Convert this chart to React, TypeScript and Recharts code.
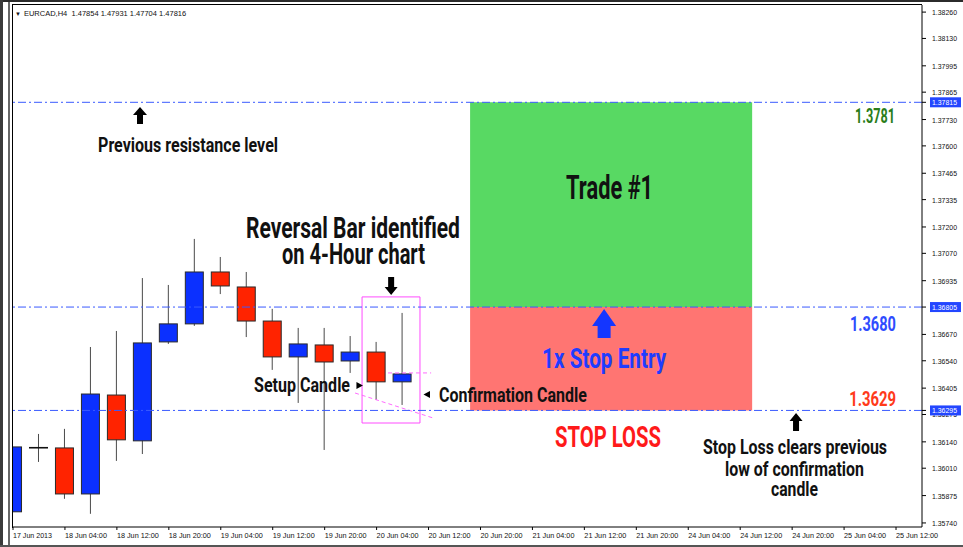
import React from 'react';
import {
  ComposedChart,
  Bar,
  XAxis,
  YAxis,
  ReferenceLine,
  ReferenceArea,
  ReferenceDot,
} from 'recharts';

// ---------- data ----------
const barIndex = [0, 1, 2, 3, 4, 5, 6, 7, 8, 9, 10, 11, 12, 13, 14, 15];
const opens = [1.35795, 1.36111, 1.3611, 1.35883, 1.36371, 1.36145, 1.36633, 1.36722, 1.36978, 1.36904, 1.36736, 1.36559, 1.36618, 1.36539, 1.36583, 1.36436];
const highs = [1.36238, 1.36179, 1.36204, 1.36608, 1.36687, 1.36948, 1.36914, 1.37141, 1.37052, 1.36978, 1.36796, 1.36702, 1.36702, 1.36662, 1.36633, 1.36776];
const lows = [1.3579, 1.36041, 1.35859, 1.35785, 1.36046, 1.3608, 1.36623, 1.36712, 1.36869, 1.36657, 1.36495, 1.36332, 1.361, 1.3648, 1.36347, 1.36322];
const closes = [1.36115, 1.36111, 1.35883, 1.36376, 1.3615, 1.36628, 1.36722, 1.36978, 1.36909, 1.36736, 1.36559, 1.36623, 1.36534, 1.36583, 1.36436, 1.36475];

const xTickIdx = [0, 2, 4, 6, 8, 10, 12, 14, 16, 18, 20, 22, 24, 26, 28, 30, 32, 34];
const xTickLabels = [
  '17 Jun 2013', '18 Jun 04:00', '18 Jun 12:00', '18 Jun 20:00', '19 Jun 04:00', '19 Jun 12:00',
  '19 Jun 20:00', '20 Jun 04:00', '20 Jun 12:00', '20 Jun 20:00', '21 Jun 04:00', '21 Jun 12:00',
  '21 Jun 20:00', '24 Jun 04:00', '24 Jun 12:00', '24 Jun 20:00', '25 Jun 04:00', '25 Jun 12:00',
];

const yTicks = [1.3826, 1.3813, 1.37995, 1.37865, 1.3773, 1.376, 1.37465, 1.37335, 1.372, 1.3707, 1.36935, 1.3667, 1.3654, 1.36405, 1.36275, 1.3614, 1.3601, 1.35875, 1.3574];
const levelPrices = [1.37815, 1.36805, 1.36295];

const resistance = 1.37815;
const entry = 1.36805;
const stopLoss = 1.36295;
const tradeStart = 17.6;
const tradeEnd = 28.46;

const header = 'EURCAD,H4  1.47854 1.47931 1.47704 1.47816';

const rows = barIndex.map((i, k) => ({
  i,
  o: opens[k],
  h: highs[k],
  l: lows[k],
  c: closes[k],
  range: [lows[k], highs[k]],
}));

// ---------- annotations (data coordinates) ----------
type Ann =
  | { kind: 'text'; x: number; y: number; text: string; size: number; width: number; color: string }
  | { kind: 'arrowUp' | 'arrowDown'; x: number; y: number; w: number; hh: number; sw: number; h: number; color: string }
  | { kind: 'triR' | 'triL'; x: number; y: number; color: string };

const annotations: Ann[] = [
  { kind: 'arrowUp', x: 4.89, y: 1.37792, w: 14, hh: 8, sw: 6, h: 17, color: '#000' },
  { kind: 'text', x: 6.74, y: 1.3757, text: 'Previous resistance level', size: 21, width: 180, color: '#111' },
  { kind: 'text', x: 13.09, y: 1.37146, text: 'Reversal Bar identified', size: 29, width: 214, color: '#111' },
  { kind: 'text', x: 13.11, y: 1.37017, text: 'on 4-Hour chart', size: 29, width: 143, color: '#111' },
  { kind: 'arrowDown', x: 14.56, y: 1.36865, w: 13, hh: 8, sw: 6, h: 18, color: '#000' },
  { kind: 'text', x: 11.13, y: 1.36386, text: 'Setup Candle', size: 21, width: 96, color: '#111' },
  { kind: 'triR', x: 13.34, y: 1.36418, color: '#000' },
  { kind: 'triL', x: 15.94, y: 1.36374, color: '#000' },
  { kind: 'text', x: 19.25, y: 1.36337, text: 'Confirmation Candle', size: 21, width: 148, color: '#111' },
  { kind: 'text', x: 22.97, y: 1.37338, text: 'Trade #1', size: 34, width: 87, color: '#111' },
  { kind: 'arrowUp', x: 22.76, y: 1.36795, w: 24, hh: 17, sw: 13, h: 29, color: '#1436ff' },
  { kind: 'text', x: 22.76, y: 1.36504, text: '1x Stop Entry', size: 27, width: 124, color: '#1f3cff' },
  { kind: 'text', x: 22.91, y: 1.36115, text: 'STOP LOSS', size: 29, width: 106, color: '#ff1a1a' },
  { kind: 'text', x: 33.19, y: 1.37713, text: '1.3781', size: 21, width: 40, color: '#2a7d1a' },
  { kind: 'text', x: 33.11, y: 1.36687, text: '1.3680', size: 21, width: 46, color: '#2f4cff' },
  { kind: 'text', x: 33.1, y: 1.36317, text: '1.3629', size: 21, width: 47, color: '#ff3a1a' },
  { kind: 'arrowUp', x: 30.15, y: 1.36282, w: 13, hh: 8, sw: 6, h: 18, color: '#000' },
  { kind: 'text', x: 30.11, y: 1.3608, text: 'Stop Loss clears previous', size: 21, width: 184, color: '#111' },
  { kind: 'text', x: 30.09, y: 1.35972, text: 'low of confirmation', size: 21, width: 139, color: '#111' },
  { kind: 'text', x: 30.09, y: 1.35873, text: 'candle', size: 21, width: 47, color: '#111' },
];

const ANN_FONT = "Roboto, 'Noto Sans', sans-serif";
const AXIS_FONT = "'Liberation Sans', Arial, sans-serif";

const renderAnn = (a: Ann, cx: number, cy: number) => {
  if (a.kind === 'text') {
    return (
      <text
        x={cx}
        y={cy}
        textAnchor="middle"
        fontFamily={ANN_FONT}
        fontWeight={700}
        fontSize={a.size}
        fill={a.color}
        textLength={a.width}
        lengthAdjust="spacingAndGlyphs"
      >
        {a.text}
      </text>
    );
  }
  if (a.kind === 'arrowUp') {
    const d = `M${cx},${cy} L${cx + a.w / 2},${cy + a.hh} L${cx + a.sw / 2},${cy + a.hh} L${cx + a.sw / 2},${cy + a.h} L${cx - a.sw / 2},${cy + a.h} L${cx - a.sw / 2},${cy + a.hh} L${cx - a.w / 2},${cy + a.hh} Z`;
    return <path d={d} fill={a.color} />;
  }
  if (a.kind === 'arrowDown') {
    const d = `M${cx},${cy} L${cx + a.w / 2},${cy - a.hh} L${cx + a.sw / 2},${cy - a.hh} L${cx + a.sw / 2},${cy - a.h} L${cx - a.sw / 2},${cy - a.h} L${cx - a.sw / 2},${cy - a.hh} L${cx - a.w / 2},${cy - a.hh} Z`;
    return <path d={d} fill={a.color} />;
  }
  if (a.kind === 'triR') {
    return <path d={`M${cx - 3},${cy - 3.5} L${cx + 3.5},${cy} L${cx - 3},${cy + 3.5} Z`} fill={a.color} />;
  }
  return <path d={`M${cx + 3},${cy - 3.5} L${cx - 3.5},${cy} L${cx + 3},${cy + 3.5} Z`} fill={a.color} />;
};

// ---------- shapes ----------
const CandleShape = (props: any) => {
  const { x, y, width, height, payload } = props;
  if (!payload) return null;
  const { o, h, l, c } = payload;
  const top0 = Math.min(y, y + height);
  const hh = Math.abs(height);
  const span = h - l;
  const py = (p: number) => top0 + ((h - p) / span) * hh;
  const cx = x + width / 2;
  const bTop = py(Math.max(o, c));
  const bBot = py(Math.min(o, c));
  const bull = c > o;
  const doji = c === o;
  return (
    <g>
      <line x1={cx} x2={cx} y1={top0} y2={top0 + hh} stroke="#4a4a4a" strokeWidth={1} />
      {doji ? (
        <line x1={x} x2={x + width} y1={bTop} y2={bTop} stroke="#111" strokeWidth={1.6} />
      ) : (
        <rect
          x={x + 0.5}
          y={bTop}
          width={width - 1}
          height={Math.max(bBot - bTop, 1)}
          fill={bull ? '#0b30ff' : '#ff2300'}
          stroke="#2a2a2a"
          strokeWidth={1}
        />
      )}
    </g>
  );
};

const XTick = (props: any) => {
  const { x, y, payload } = props;
  const k = xTickIdx.indexOf(payload.value);
  const label = k >= 0 ? xTickLabels[k] : '';
  return (
    <text
      x={x}
      y={y + 6}
      textAnchor="start"
      fontFamily={AXIS_FONT}
      fontSize={7.5}
      fill="#111"
      textLength={k === 0 ? 39 : 42}
      lengthAdjust="spacingAndGlyphs"
    >
      {label}
    </text>
  );
};

const YTick = (props: any) => {
  const { x, y, payload } = props;
  const v = payload.value as number;
  const hi = levelPrices.some((p) => Math.abs(p - v) < 1e-7);
  return (
    <g>
      {hi && <rect x={x + 2} y={y - 5} width={31} height={10} fill="#2346ff" />}
      <text
        x={x + 4}
        y={y + 3}
        textAnchor="start"
        fontFamily={AXIS_FONT}
        fontSize={7.5}
        fill={hi ? '#ffffff' : '#111'}
        textLength={25}
        lengthAdjust="spacingAndGlyphs"
      >
        {v.toFixed(5)}
      </text>
    </g>
  );
};

const DASH = '8 3 2 3';
const LEVEL_COLOR = '#3a5aff';

export default function App() {
  return (
    <div style={{ position: 'absolute', left: 0, top: 0, width: 963, height: 547, background: '#fff', overflow: 'hidden' }}>
      <ComposedChart
        width={963}
        height={547}
        data={rows}
        margin={{ top: 5, right: 0, bottom: 0, left: 13 }}
      >
        <XAxis
          type="number"
          dataKey="i"
          domain={[0, 35]}
          allowDataOverflow
          ticks={xTickIdx}
          interval={0}
          tick={<XTick />}
          tickSize={3}
          tickMargin={2}
          height={20}
          axisLine={{ stroke: '#000' }}
          tickLine={{ stroke: '#000' }}
        />
        <YAxis
          type="number"
          orientation="right"
          domain={[1.3572, 1.38295]}
          allowDataOverflow
          ticks={[...yTicks, ...levelPrices]}
          interval={0}
          tick={<YTick />}
          tickSize={4}
          tickMargin={2}
          width={41}
          axisLine={{ stroke: '#000' }}
          tickLine={{ stroke: '#000' }}
        />
        <ReferenceArea x1={tradeStart} x2={tradeEnd} y1={entry} y2={resistance} fill="#58d963" fillOpacity={1} stroke="none" />
        <ReferenceArea x1={tradeStart} x2={tradeEnd} y1={stopLoss} y2={entry} fill="#ff7572" fillOpacity={1} stroke="none" />
        <ReferenceArea x1={13.44} x2={15.67} y1={1.36233} y2={1.36855} fill="none" fillOpacity={0} stroke="#ff4cff" strokeWidth={1} />
        <ReferenceLine
          segment={[{ x: 14.44, y: 1.3648 }, { x: 16.1, y: 1.3648 }]}
          stroke="#ff6cff"
          strokeDasharray="4 3"
        />
        <ReferenceLine
          segment={[{ x: 13.17, y: 1.36381 }, { x: 16.17, y: 1.36258 }]}
          stroke="#ff6cff"
          strokeDasharray="4 3"
        />
        <Bar dataKey="range" barSize={19} shape={<CandleShape />} isAnimationActive={false} />
        {levelPrices.map((p) => (
          <ReferenceLine key={p} y={p} stroke={LEVEL_COLOR} strokeDasharray={DASH} strokeWidth={1} />
        ))}
        {annotations.map((a, k) => (
          <ReferenceDot
            key={k}
            x={a.x}
            y={a.y}
            r={1}
            shape={(p: any) => renderAnn(a, p.cx, p.cy)}
          />
        ))}
      </ComposedChart>
      {/* window frame */}
      <div style={{ position: 'absolute', left: 0, top: 0, width: 963, height: 2, background: '#2b2b2b' }} />
      <div style={{ position: 'absolute', left: 0, top: 0, width: 3, height: 547, background: '#3a3a3a' }} />
      <div style={{ position: 'absolute', left: 8, top: 2, width: 2, height: 545, background: '#666' }} />
      <div style={{ position: 'absolute', left: 12, top: 4, width: 1, height: 524, background: '#000' }} />
      <div style={{ position: 'absolute', left: 12, top: 4, width: 910, height: 1, background: '#000' }} />
      <div style={{ position: 'absolute', left: 0, top: 545, width: 963, height: 2, background: '#555' }} />
      <div
        style={{
          position: 'absolute',
          left: 15,
          top: 9,
          fontFamily: AXIS_FONT,
          fontSize: 7.5,
          color: '#111',
          whiteSpace: 'pre',
          lineHeight: '10px',
        }}
      >
        <span style={{ fontSize: 6, marginRight: 3 }}>▼</span>
        {header}
      </div>
    </div>
  );
}
